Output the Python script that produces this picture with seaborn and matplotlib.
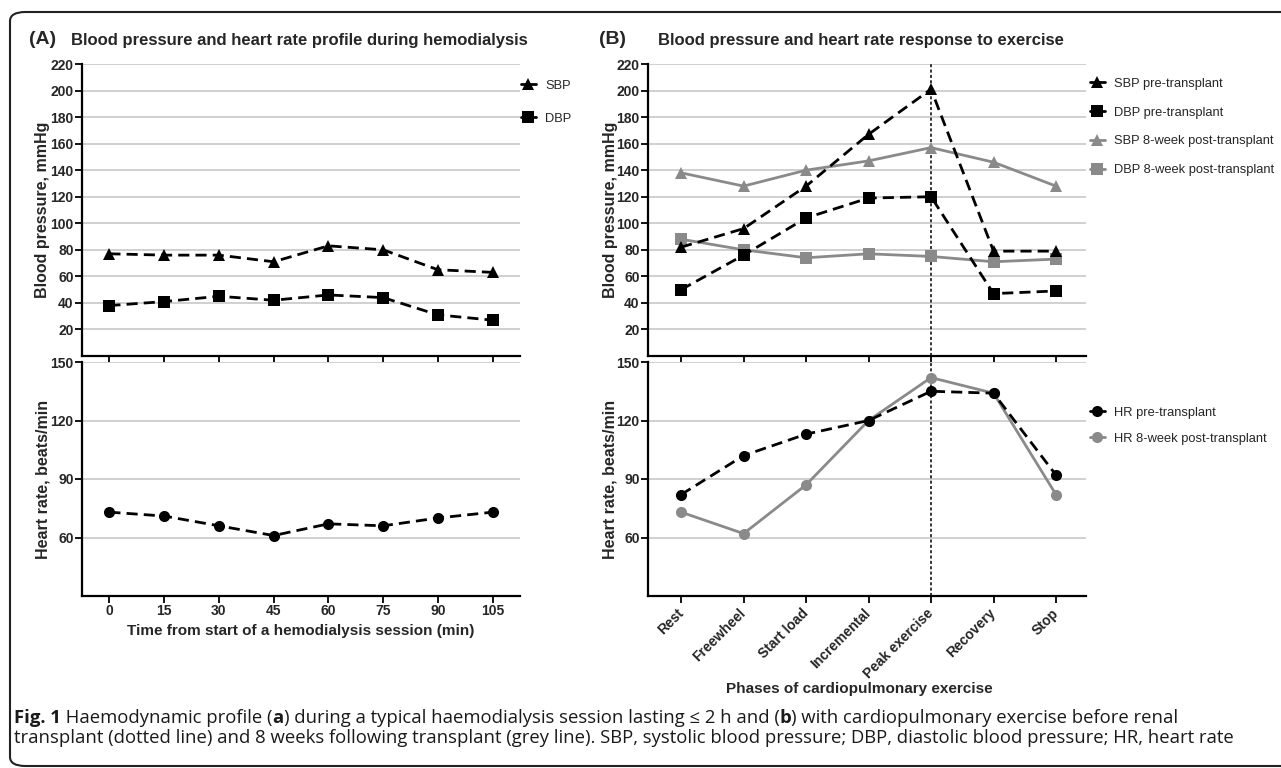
import matplotlib
matplotlib.use("Agg")
import matplotlib.pyplot as plt
import seaborn as sns
import numpy as np
import pandas as pd
from matplotlib.lines import Line2D
from matplotlib.patches import FancyBboxPatch

# ---------------- data ----------------
time_min = [0, 15, 30, 45, 60, 75, 90, 105]
hd_sbp = [77, 76, 76, 71, 83, 80, 65, 63]
hd_dbp = [38, 41, 45, 42, 46, 44, 31, 27]
hd_hr = [73, 71, 66, 61, 67, 66, 70, 73]

phases = ["Rest", "Freewheel", "Start load", "Incremental", "Peak exercise", "Recovery", "Stop"]
sbp_pre = [82, 96, 128, 167, 201, 79, 79]
dbp_pre = [50, 76, 104, 119, 120, 47, 49]
sbp_post = [138, 128, 140, 147, 157, 146, 128]
dbp_post = [88, 80, 74, 77, 75, 71, 73]
hr_pre = [82, 102, 113, 120, 135, 134, 92]
hr_post = [73, 62, 87, 120, 142, 134, 82]

bp_ticks = [20, 40, 60, 80, 100, 120, 140, 160, 180, 200, 220]
hr_ticks = [60, 90, 120, 150]

# ---------------- style ----------------
sns.set_theme(style="white")
FONT = ["Liberation Sans", "DejaVu Sans"]
plt.rcParams["font.family"] = FONT
plt.rcParams["font.weight"] = "bold"

GREY = "#8a8a8a"
GRID = "#c8c8c8"
DASH = (0, (4, 2.2))

fig = plt.figure(figsize=(12.81, 7.68), dpi=100)
W, H = 1281, 768


def px_axes(l, t, r, b):
    return fig.add_axes([l / W, 1 - b / H, (r - l) / W, (b - t) / H])


axA1 = px_axes(82, 64, 520, 356)
axA2 = px_axes(82, 362, 520, 596)
axB1 = px_axes(648, 64, 1086, 356)
axB2 = px_axes(648, 362, 1086, 596)


def style_axes(ax, ylim, yticks, bottom_labels):
    ax.set_ylim(*ylim)
    ax.set_yticks(yticks)
    ax.yaxis.grid(True, color=GRID, lw=1.2)
    ax.xaxis.grid(False)
    for s in ["top", "right"]:
        ax.spines[s].set_visible(False)
    for s in ["left", "bottom"]:
        ax.spines[s].set_color("black")
        ax.spines[s].set_linewidth(1.6)
    ax.tick_params(axis="both", which="major", direction="out", length=5, width=1.3,
                   color="black", labelsize=10, pad=1, left=True, bottom=True)
    for lab in ax.get_yticklabels():
        lab.set_fontweight("bold")
    if not bottom_labels:
        ax.tick_params(axis="x", labelbottom=False)
    ax.set_xlabel("")
    ax.set_ylabel("")


def draw(ax, x, y, marker, color, ls, ms=8):
    sns.lineplot(x=x, y=y, ax=ax, color=color, linestyle=ls, lw=2,
                 marker=marker, markersize=ms, markeredgewidth=0,
                 markerfacecolor=color, legend=False, zorder=3)


# ---- Panel A ----
draw(axA1, time_min, hd_sbp, "^", "black", DASH)
draw(axA1, time_min, hd_dbp, "s", "black", DASH)
draw(axA2, time_min, hd_hr, "o", "black", DASH)
for ax in (axA1, axA2):
    ax.set_xlim(-7.5, 112.5)
    ax.set_xticks(time_min)
style_axes(axA1, (0, 220), bp_ticks, False)
style_axes(axA2, (30, 150), hr_ticks, True)
axA2.set_xticklabels([str(t) for t in time_min], fontweight="bold", fontsize=10)
axA2.set_xlabel("Time from start of a hemodialysis session (min)", fontsize=11,
                fontweight="bold")
axA2.xaxis.set_label_coords(0.5, -(631 - 596) / 234)
axA2.xaxis.label.set_verticalalignment("center")

# ---- Panel B ----
xb = list(range(len(phases)))
draw(axB1, xb, sbp_post, "^", GREY, "-")
draw(axB1, xb, dbp_post, "s", GREY, "-")
draw(axB1, xb, sbp_pre, "^", "black", DASH)
draw(axB1, xb, dbp_pre, "s", "black", DASH)
draw(axB2, xb, hr_post, "o", GREY, "-")
draw(axB2, xb, hr_pre, "o", "black", DASH)
for ax in (axB1, axB2):
    ax.set_xlim(-0.53, 6.48)
    ax.set_xticks(xb)
    ax.axvline(4, color="black", lw=1.1, linestyle=(0, (2, 1.5)), zorder=2)
style_axes(axB1, (0, 220), bp_ticks, False)
style_axes(axB2, (30, 150), hr_ticks, True)
axB2.set_xticklabels(phases, rotation=45, ha="right", va="center", rotation_mode="anchor",
                     fontweight="bold", fontsize=10)
axB2.tick_params(axis="x", pad=6)
axB2.set_xlabel("Phases of cardiopulmonary exercise", fontsize=11, fontweight="bold")
axB2.xaxis.set_label_coords((859 - 648) / 438, -(689 - 596) / 234)
axB2.xaxis.label.set_verticalalignment("center")

# y labels
for ax, lab, xc, left in ((axA1, "Blood pressure, mmHg", 43, 82),
                          (axA2, "Heart rate, beats/min", 43, 82),
                          (axB1, "Blood pressure, mmHg", 610, 648),
                          (axB2, "Heart rate, beats/min", 610, 648)):
    ax.set_ylabel(lab, fontsize=11.5, fontweight="bold")
    ax.yaxis.set_label_coords((xc - left) / 438, 0.5)
    ax.yaxis.label.set_verticalalignment("center")


# ---- Legends ----
def handle(marker, color):
    return Line2D([0], [0], color=color, lw=2, marker=marker, markersize=8,
                  markeredgewidth=0)


LPROP = {"family": FONT, "weight": "normal", "size": 9.3}
fig.legend([handle("^", "black"), handle("s", "black")], ["SBP", "DBP"],
           loc="upper left", bbox_to_anchor=(509 / W, 1 - 68 / H),
           frameon=False, handlelength=1.2, handletextpad=0.7,
           labelspacing=1.65, prop=LPROP)
fig.legend([handle("^", "black"), handle("s", "black"), handle("^", GREY), handle("s", GREY)],
           ["SBP pre-transplant", "DBP pre-transplant", "SBP 8-week post-transplant",
            "DBP 8-week post-transplant"],
           loc="upper left", bbox_to_anchor=(1078 / W, 1 - 66 / H),
           frameon=False, handlelength=1.2, handletextpad=0.7,
           labelspacing=1.3, prop=LPROP)
fig.legend([handle("o", "black"), handle("o", GREY)],
           ["HR pre-transplant", "HR 8-week post-transplant"],
           loc="upper left", bbox_to_anchor=(1078 / W, 1 - 395 / H),
           frameon=False, handlelength=1.2, handletextpad=0.7,
           labelspacing=1.08, prop=LPROP)

# ---- Titles ----
fig.text(29 / W, 1 - 40 / H, "(A)", fontsize=14, fontweight="bold", va="center", ha="left")
fig.text(71 / W, 1 - 40 / H, "Blood pressure and heart rate profile during hemodialysis",
         fontsize=12, fontweight="bold", va="center", ha="left")
fig.text(599 / W, 1 - 40 / H, "(B)", fontsize=14, fontweight="bold", va="center", ha="left")
fig.text(658 / W, 1 - 40 / H, "Blood pressure and heart rate response to exercise",
         fontsize=12, fontweight="bold", va="center", ha="left")

# ---- frame ----
frame = FancyBboxPatch((10 / W, 1 - 766 / H), 1300 / W, 754 / H,
                       boxstyle="round,pad=0,rounding_size=0.012", transform=fig.transFigure,
                       fill=False, edgecolor="#222222", lw=1.5, clip_on=False)
fig.patches.append(frame)

# ---- caption (mixed bold / regular pieces chained left to right) ----
cap_font = ["Open Sans", "DejaVu Sans"]
CAP = 13.3
CAPCOL = "#1a1a1a"
pieces1 = [("Fig. 1", "bold"), (" Haemodynamic profile (", "normal"), ("a", "bold"),
           (") during a typical haemodialysis session lasting \u2264 2 h and (", "normal"),
           ("b", "bold"), (") with cardiopulmonary exercise before renal", "normal")]
x0 = 14 / W
prev = fig.text(x0, 1 - 723 / H, pieces1[0][0], fontsize=CAP, fontweight=pieces1[0][1],
                family=cap_font, va="baseline", ha="left", color=CAPCOL)
for txt, wt in pieces1[1:]:
    prev = axA1.annotate(txt, xy=(1, 0), xycoords=prev, xytext=(0, 0),
                         textcoords="offset points", fontsize=CAP, fontweight=wt,
                         family=cap_font, va="bottom", ha="left", color=CAPCOL,
                         annotation_clip=False)
fig.text(x0, 1 - 743 / H,
         "transplant (dotted line) and 8 weeks following transplant (grey line). SBP, systolic blood "
         "pressure; DBP, diastolic blood pressure; HR, heart rate",
         fontsize=CAP, fontweight="normal", family=cap_font, va="baseline", ha="left",
         color=CAPCOL)

fig.savefig("out.png", dpi=100)
